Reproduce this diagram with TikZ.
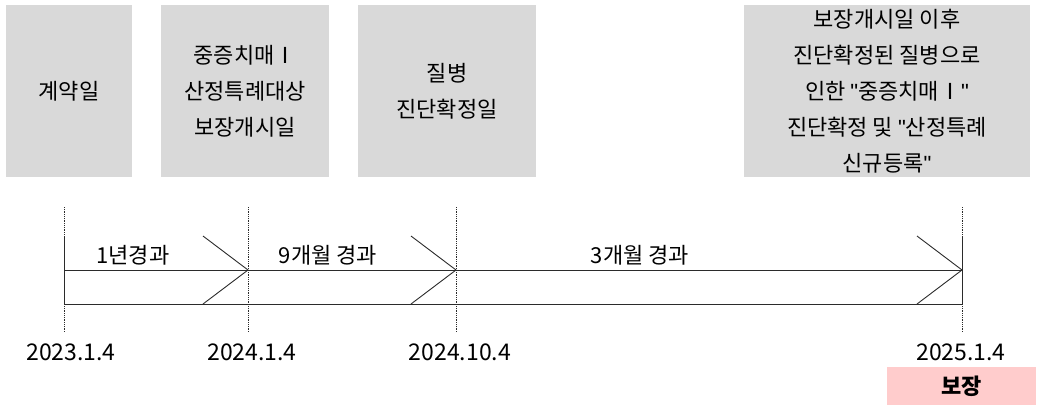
\documentclass[tikz,border=0pt]{standalone}
\usepackage{fontspec}
\setmainfont{Noto Sans CJK KR}
\newfontfamily\quotefont{Liberation Sans}
\usepackage{tikz}
\usetikzlibrary{positioning}
\definecolor{boxgray}{HTML}{D9D9D9}
\definecolor{softpink}{HTML}{FFCCCC}
\definecolor{linedark}{HTML}{2B2B2B}
\newcommand{\dq}{{\quotefont"}}
\tikzset{
  eventbox/.style={fill=boxgray, draw=none, align=center, inner sep=0pt, minimum height=172pt, font=\fontsize{22}{36}\selectfont},
  tline/.style={draw=linedark, line width=0.9pt},
  guide/.style={draw=linedark, densely dotted, line width=0.8pt},
  datelabel/.style={font=\fontsize{23}{26}\selectfont},
  spanlabel/.style={font=\fontsize{22}{26}\selectfont},
  paybox/.style={fill=softpink, draw=none, minimum width=149pt, minimum height=38pt, inner sep=0pt, font=\fontsize{22}{26}\selectfont\bfseries}
}

\begin{document}
\begin{tikzpicture}[x=1pt, y=-1pt]
  \useasboundingbox (0,0) rectangle (1038,405);

  % event boxes
  \node[eventbox, minimum width=126pt] (contract) at (69,91) {계약일};
  \node[eventbox, minimum width=168pt] (start) at (245,91) {중증치매Ⅰ\\산정특례대상\\보장개시일};
  \node[eventbox, minimum width=178pt] (diag) at (447,91) {질병\\진단확정일};
  \node[eventbox, minimum width=286pt] (claim) at (887,91) {보장개시일 이후\\진단확정된 질병으로\\인한 \dq 중증치매Ⅰ\dq\\진단확정 및 \dq 산정특례\\신규등록\dq};

  % guides and dates
  \foreach \i/\x/\lx/\d in {0/64/71/2023.1.4, 1/248/252/2024.1.4, 2/456/460/2024.10.4, 3/962/961/2025.1.4} {
    \coordinate (g\i) at (\x,207);
    \coordinate (h\i) at (\x,332);
    \coordinate (t\i) at (\x,270);
    \coordinate (b\i) at (\x,304);
    \draw[guide] (g\i) -- (h\i);
    \node[datelabel] (d\i) at (\lx,352) {\d};
  }

  % timeline band
  \draw[tline] (t0) -- (t3);
  \draw[tline] (b0) -- (b3);
  \draw[tline] (t0) ++(0,-33) -- (b0);
  \draw[tline] (t3) ++(0,-34) -- (b3);
  \foreach \i in {1,2,3} {
    \draw[tline] (t\i) ++(-45,-34) -- (t\i) -- ++(-45,34);
  }

  \node[spanlabel] (y1) at (133,255) {1년경과};
  \node[spanlabel] (m9) at (328,255) {9개월 경과};
  \node[spanlabel] (m3) at (640,255) {3개월 경과};

  \node[paybox] (pay) at (961.5,386) {보장};
\end{tikzpicture}
\end{document}
